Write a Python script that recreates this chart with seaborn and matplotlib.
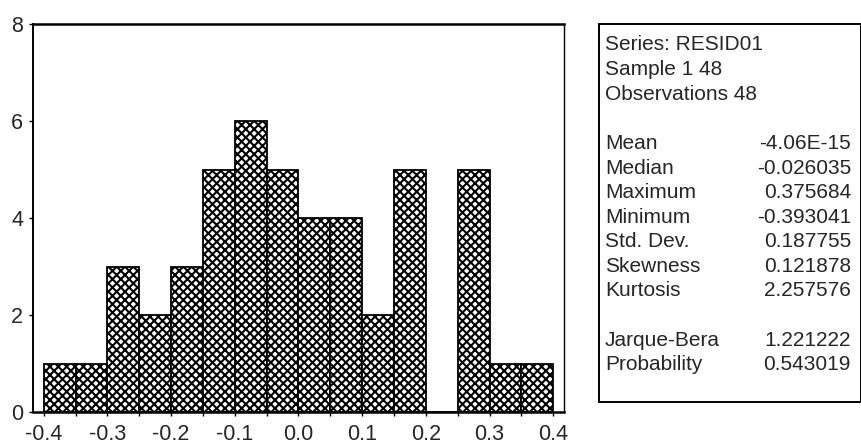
import numpy as np
import matplotlib
matplotlib.use("Agg")
import matplotlib.pyplot as plt
from matplotlib.patches import Rectangle
from matplotlib.ticker import MultipleLocator
import seaborn as sns

# Residual histogram: bin edges and counts per bin
bin_edges = [-0.40, -0.35, -0.30, -0.25, -0.20, -0.15, -0.10, -0.05,
             0.00, 0.05, 0.10, 0.15, 0.20, 0.25, 0.30, 0.35, 0.40]
bin_counts = [1, 1, 3, 2, 3, 5, 6, 5, 4, 4, 2, 5, 0, 5, 1, 1]

# Descriptive statistics panel
header_lines = ["Series: RESID01", "Sample 1 48", "Observations 48"]
stat_names = ["Mean", "Median", "Maximum", "Minimum", "Std. Dev.",
              "Skewness", "Kurtosis"]
stat_values = ["-4.06E-15", "-0.026035", "0.375684", "-0.393041",
               "0.187755", "0.121878", "2.257576"]
test_names = ["Jarque-Bera", "Probability"]
test_values = ["1.221222", "0.543019"]

x_ticks = [-0.4, -0.3, -0.2, -0.1, 0.0, 0.1, 0.2, 0.3, 0.4]
y_ticks = [0, 2, 4, 6, 8]

sns.set_style("white")
plt.rcParams["font.family"] = ["Liberation Sans", "DejaVu Sans"]
plt.rcParams["hatch.linewidth"] = 1.5
plt.rcParams["hatch.color"] = "black"

W, H = 862, 446
fig = plt.figure(figsize=(W / 100, H / 100), dpi=100)
fig.patch.set_facecolor("white")

def fx(px):
    return px / W

def fy(py):
    return 1 - py / H

ax = fig.add_axes([fx(33), fy(412), fx(564) - fx(33), fy(24) - fy(412)])

centers = [(a + b) / 2 for a, b in zip(bin_edges[:-1], bin_edges[1:])]
sns.histplot(x=centers, weights=bin_counts, bins=bin_edges, ax=ax,
             stat="count", element="bars", fill=True, color="white",
             alpha=1, edgecolor="black", linewidth=1.3, hatch="xxxx")
for p in ax.patches:
    p.set_facecolor("white")
    p.set_edgecolor("black")

ax.set_xlim(-0.417, 0.417)
ax.set_ylim(0, 8)
ax.set_xticks(x_ticks)
ax.set_xticklabels([f"{t:.1f}" for t in x_ticks])
ax.xaxis.set_minor_locator(MultipleLocator(0.05))
ax.set_yticks(y_ticks)
ax.set_xlabel("")
ax.set_ylabel("")
ax.tick_params(axis="both", which="both", direction="out", length=3,
               width=1.0, color="black", labelsize=15.5, pad=4)
ax.tick_params(axis="x", which="both", bottom=True, pad=6)
ax.tick_params(axis="y", left=True)
for side in ["left", "bottom", "top", "right"]:
    ax.spines[side].set_visible(True)
    ax.spines[side].set_color("black")
ax.spines["left"].set_linewidth(1.4)
ax.spines["bottom"].set_linewidth(1.8)
ax.spines["top"].set_linewidth(1.8)
ax.spines["right"].set_linewidth(1.0)

# Statistics box
box = Rectangle((fx(599), fy(402)), fx(861) - fx(599), fy(24) - fy(402),
                transform=fig.transFigure, facecolor="white",
                edgecolor="black", linewidth=1.4)
fig.patches.append(box)

line_y0 = 45
line_step = 24.6
rows = header_lines + [""] + list(zip(stat_names, stat_values)) + [""] + \
    list(zip(test_names, test_values))
for i, row in enumerate(rows):
    y = fy(line_y0 + i * line_step)
    if isinstance(row, tuple):
        fig.text(fx(605), y, row[0], ha="left", va="center", fontsize=15)
        fig.text(fx(851), y, row[1], ha="right", va="center", fontsize=15)
    elif row:
        fig.text(fx(605), y, row, ha="left", va="center", fontsize=15)

fig.savefig("out.png", dpi=100)
